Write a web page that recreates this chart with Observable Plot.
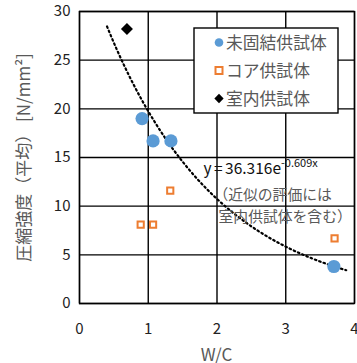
<!DOCTYPE html>
<html>
<head>
<meta charset="utf-8">
<script src="https://cdn.jsdelivr.net/npm/d3@7"></script>
<script src="https://cdn.jsdelivr.net/npm/@observablehq/plot@0.6"></script>
<style>
  html, body { margin: 0; padding: 0; background: #fff; }
  svg { display: block; }
</style>
</head>
<body>
<div id="chart"></div>
<script>
// Data
const unconsolidatedWC = [0.91, 1.07, 1.33, 3.70];
const unconsolidatedStrength = [19.0, 16.7, 16.7, 3.8];
const coreWC = [0.89, 1.07, 1.32, 3.71];
const coreStrength = [8.1, 8.1, 11.6, 6.7];
const labWC = [0.69];
const labStrength = [28.2];
const xTicks = [0, 1, 2, 3, 4];
const yTicks = [0, 5, 10, 15, 20, 25, 30];
const legendLabels = ["未固結供試体", "コア供試体", "室内供試体"];
const xLabel = "W/C";
const yLabel = "圧縮強度（平均） [N/mm²]";
// Trendline as stated on the chart: y = 36.316 e^(-0.609x)
const trendA = 36.316, trendB = -0.609, trendX0 = 0.40, trendX1 = 3.88;
const equationText = "y = 36.316e";
const equationSup = "-0.609x";
const noteLines = ["（近似の評価には", "室内供試体を含む）"];

const trend = d3.range(trendX0, trendX1 + 1e-9, 0.02).map(x => ({x, y: trendA * Math.exp(trendB * x)}));
const toRows = (xs, ys) => xs.map((x, i) => ({x, y: ys[i]}));
const blue = toRows(unconsolidatedWC, unconsolidatedStrength);
const orange = toRows(coreWC, coreStrength);
const black = toRows(labWC, labStrength);

const font = "'Noto Sans CJK JP', 'Noto Sans', sans-serif";

const chart = Plot.plot({
  width: 357,
  height: 363,
  marginLeft: 79,
  marginRight: 3,
  marginTop: 11,
  marginBottom: 60,
  style: {fontFamily: font, fontSize: "15px", color: "#222", background: "#fff"},
  x: {domain: [0, 4], ticks: xTicks},
  y: {domain: [0, 30], ticks: yTicks},
  marks: [
    Plot.gridX(xTicks, {stroke: "#000", strokeOpacity: 1, strokeWidth: 1.4}),
    Plot.gridY(yTicks, {stroke: "#000", strokeOpacity: 1, strokeWidth: 1.4}),
    Plot.frame({stroke: "#000", strokeWidth: 1.4}),
    Plot.axisX(xTicks, {tickSize: 0, tickPadding: 20, fontSize: 15, fill: "#222", label: null}),
    Plot.axisY(yTicks, {tickSize: 0, tickPadding: 9, fontSize: 15, fill: "#222",
      label: yLabel, labelAnchor: "center", labelArrow: "none", labelOffset: 62}),
    Plot.line(trend, {x: "x", y: "y", stroke: "#000", strokeWidth: 2.2, strokeDasharray: "1.6,3"}),
    Plot.dot(blue, {x: "x", y: "y", r: 6.6, fill: "#5B9BD5", stroke: "none"}),
    Plot.dot(orange, {x: "x", y: "y", symbol: "square", r: 3.5, fill: "#fff", stroke: "#ED7D31", strokeWidth: 2}),
    Plot.dot(black, {x: "x", y: "y", symbol: "diamond2", r: 5.4, fill: "#000", stroke: "none"})
  ]
});

const svg = d3.select(chart);
svg.selectAll("g[aria-label='y-axis label'] text")
  .attr("fill", "#595959").style("font-size", "17px");

const sx = chart.scale("x"), sy = chart.scale("y");
const X = v => sx.apply(v), Y = v => sy.apply(v);

// x-axis label
svg.append("text").attr("x", X(2)).attr("y", 355).attr("dy", "0.36em").attr("text-anchor", "middle")
  .attr("font-family", font).attr("font-size", 17).attr("fill", "#595959").text(xLabel);

// equation and note
const eq = svg.append("text").attr("x", X(1.81)).attr("y", Y(13.86)).attr("dy", "0.36em")
  .attr("text-anchor", "start").attr("word-spacing", "-1px")
  .attr("font-family", font).attr("font-size", 15.5).attr("fill", "#111");
eq.append("tspan").text(equationText);
eq.append("tspan").attr("font-size", 11).attr("dy", "-0.6em").text(equationSup);
svg.append("text").attr("x", X(1.955)).attr("y", Y(11.08)).attr("dy", "0.36em").attr("text-anchor", "start")
  .attr("font-family", font).attr("font-size", 14.8).attr("fill", "#595959").text(noteLines[0]);
svg.append("text").attr("x", X(2.03)).attr("y", Y(8.82)).attr("dy", "0.36em").attr("text-anchor", "start")
  .attr("font-family", font).attr("font-size", 14.8).attr("fill", "#595959").text(noteLines[1]);

// legend
const lg = svg.append("g");
lg.append("rect").attr("x", 194).attr("y", 28).attr("width", 144).attr("height", 85)
  .attr("fill", "#fff").attr("stroke", "#000").attr("stroke-width", 1.4);
const rowsY = [42.5, 70.5, 98.5];
lg.append("circle").attr("cx", 219).attr("cy", rowsY[0]).attr("r", 4.3).attr("fill", "#5B9BD5");
lg.append("rect").attr("x", 215.5).attr("y", rowsY[1] - 3.5).attr("width", 7).attr("height", 7)
  .attr("fill", "#fff").attr("stroke", "#ED7D31").attr("stroke-width", 2);
lg.append("path").attr("d", d3.symbol(d3.symbolDiamond2, 55)()).attr("transform", `translate(219,${rowsY[2]})`).attr("fill", "#000");
legendLabels.forEach((t, i) => {
  lg.append("text").attr("x", 226).attr("y", rowsY[i]).attr("dy", "0.36em").attr("text-anchor", "start")
    .attr("font-family", font).attr("font-size", 16.8).attr("fill", "#595959").text(t);
});

document.getElementById("chart").appendChild(chart);
</script>
</body>
</html>
